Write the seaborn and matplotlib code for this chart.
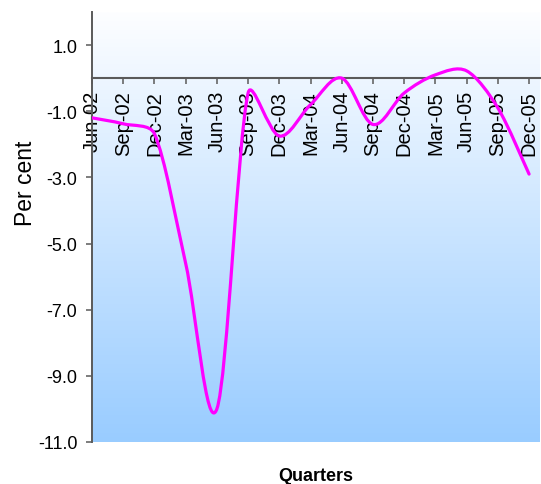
import numpy as np
import matplotlib
matplotlib.use("Agg")
import matplotlib.pyplot as plt
from matplotlib.path import Path
from matplotlib.patches import PathPatch
from matplotlib.colors import LinearSegmentedColormap
import seaborn as sns

# Quarterly change, per cent
quarters = ["Jun-02", "Sep-02", "Dec-02", "Mar-03", "Jun-03", "Sep-03", "Dec-03",
            "Mar-04", "Jun-04", "Sep-04", "Dec-04", "Mar-05", "Jun-05", "Sep-05",
            "Dec-05"]
per_cent = [-1.2, -1.38, -1.68, -5.6, -10.0, -0.45, -1.75,
            -0.8, 0.0, -1.4, -0.45, 0.1, 0.22, -0.9,
            -2.9]

y_ticks = [1.0, -1.0, -3.0, -5.0, -7.0, -9.0, -11.0]

sns.set_theme(style="white")
plt.rcParams["font.family"] = ["Liberation Sans", "DejaVu Sans"]

W, H = 541, 485
fig = plt.figure(figsize=(W / 100, H / 100), dpi=100)
ax = fig.add_axes([92 / W, (H - 443) / H, 448 / W, 430 / H])

pos = np.arange(len(quarters), dtype=float)
x_lo, x_hi = 0.0, 14.35
y_lo, y_hi = -11.0, 2.0
ax.set_xlim(x_lo, x_hi)
ax.set_ylim(y_lo, y_hi)

# vertical background gradient: white at the top to light blue at the bottom
bg = LinearSegmentedColormap.from_list("bg", ["#fdfeff", "#99ccff"])
ax.imshow(np.linspace(0, 1, 256).reshape(-1, 1), cmap=bg, aspect="auto",
          extent=[x_lo, x_hi, y_lo, y_hi], origin="upper", zorder=0,
          interpolation="bilinear")

# smoothed line through the quarterly values: cubic Bezier segments whose
# control handles follow the neighbouring points (1/6 of the chord), limited
# to a third of the segment length in screen space
to_px = ax.transData
pts = to_px.transform(np.column_stack([pos, per_cent]))
ext = np.vstack([pts[0], pts, pts[-1]])


def handle(vec, seg_len):
    off = vec / 6.0
    n = np.hypot(*off)
    lim = seg_len / 3.0
    return off * (lim / n) if n > lim else off


verts = [pts[0]]
codes = [Path.MOVETO]
for i in range(len(pts) - 1):
    p0, p1, p2, p3 = ext[i], ext[i + 1], ext[i + 2], ext[i + 3]
    seg = np.hypot(*(p2 - p1))
    c1 = p1 + handle(p2 - p0, seg)
    c2 = p2 - handle(p3 - p1, seg)
    verts += [c1, c2, p2]
    codes += [Path.CURVE4] * 3
verts = to_px.inverted().transform(np.array(verts))
ax.add_patch(PathPatch(Path(verts, codes), facecolor="none", edgecolor="#ff00ff",
                       lw=2.3, capstyle="round", joinstyle="round", zorder=3,
                       transform=ax.transData))

# axes styling
axis_col = "#5a5a5a"
for s in ["top", "right"]:
    ax.spines[s].set_visible(False)
ax.spines["bottom"].set_position(("data", 0))
ax.spines["bottom"].set_color(axis_col)
ax.spines["bottom"].set_linewidth(1.5)
ax.spines["left"].set_color(axis_col)
ax.spines["left"].set_linewidth(1.4)
ax.spines["bottom"].set_zorder(2)

ax.set_yticks(y_ticks)
ax.set_yticklabels([f"{v:.1f}" for v in y_ticks])
ax.set_xticks(pos)
ax.set_xticklabels(quarters, rotation=90, va="top", ha="center")

ax.tick_params(axis="y", direction="out", length=4.5, width=1.1, color=axis_col,
               pad=6, labelsize=13, labelcolor="black", left=True)
ax.tick_params(axis="x", direction="out", length=4.5, width=1.1, color=axis_col,
               pad=4.0, labelsize=14.5, labelcolor="black", bottom=True)

ax.set_ylabel("Per cent", fontsize=16.5, color="black")
ax.yaxis.set_label_coords(-0.148, 0.605)
ax.yaxis.label.set_va("center")

ax.set_xlabel("Quarters", fontsize=13, fontweight="bold", color="black")
ax.xaxis.set_label_coords(0.5, -0.079)
ax.xaxis.label.set_va("center")

ax.grid(False)
fig.savefig("out.png", dpi=100, facecolor="white")
